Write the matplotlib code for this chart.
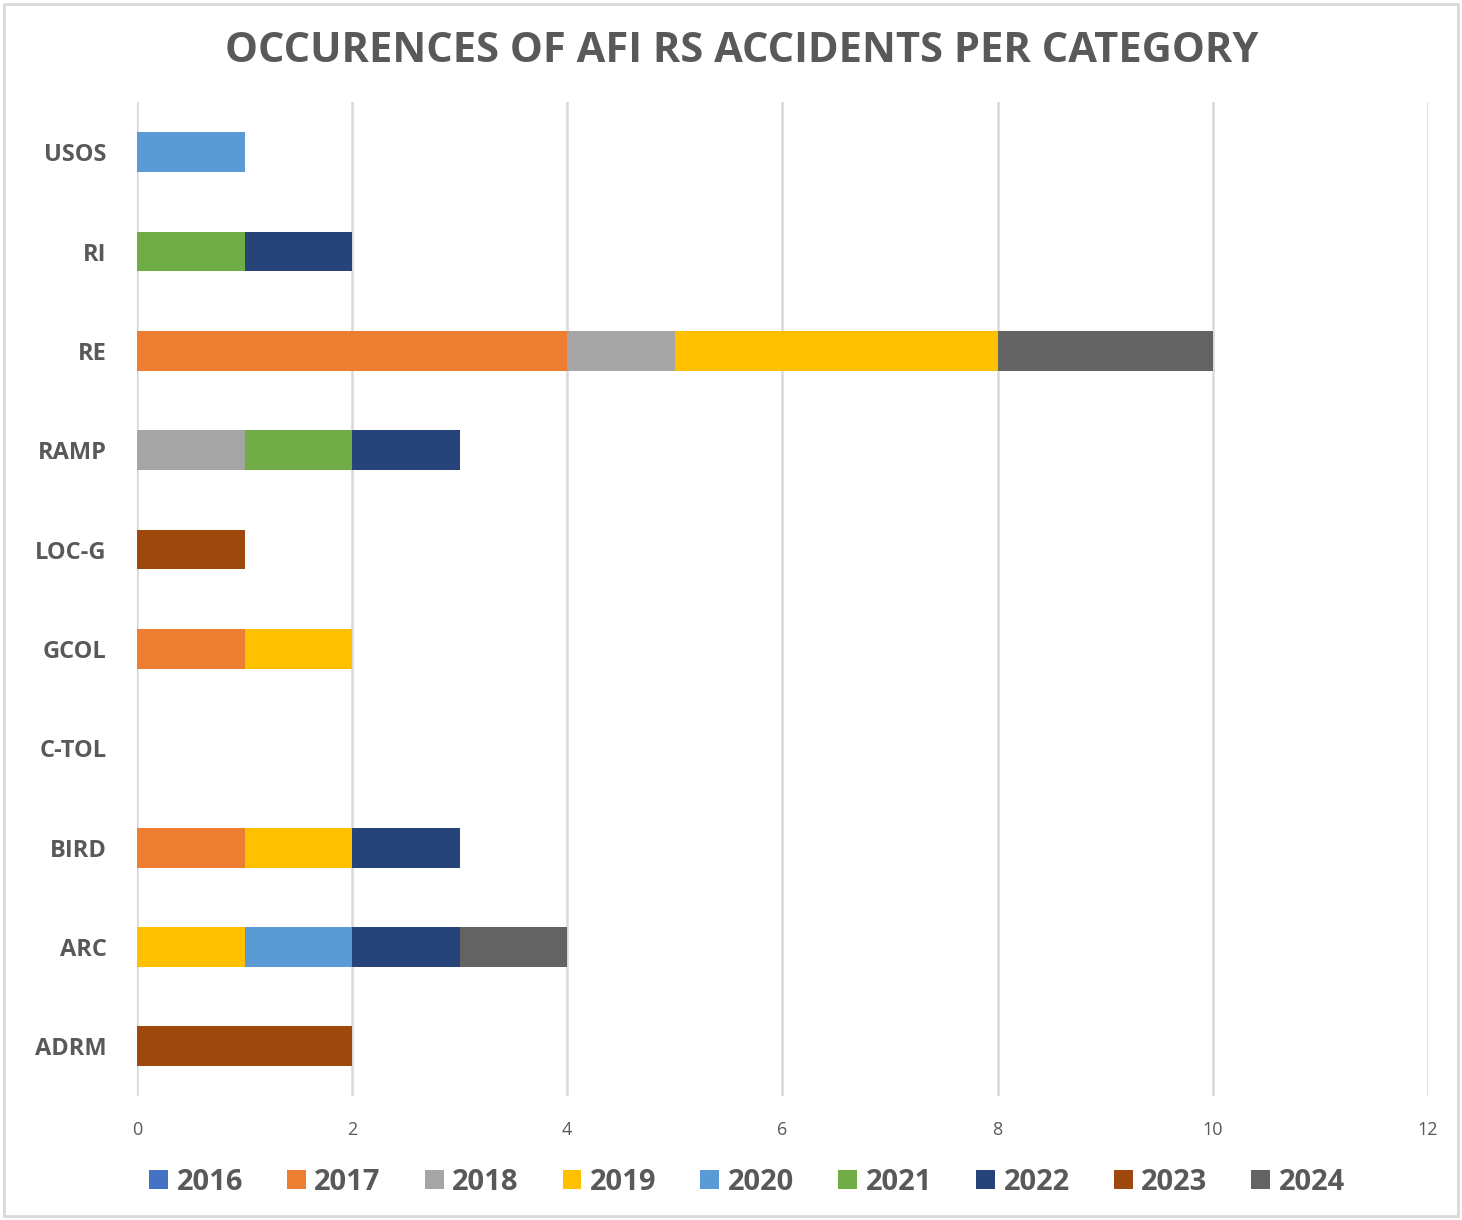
import matplotlib.pyplot as plt
from matplotlib.patches import Rectangle

categories = ['ADRM', 'ARC', 'BIRD', 'C-TOL', 'GCOL', 'LOC-G', 'RAMP', 'RE', 'RI', 'USOS']
years = ['2016', '2017', '2018', '2019', '2020', '2021', '2022', '2023', '2024']

# counts per year, in the order of categories
y2016 = [0, 0, 0, 0, 0, 0, 0, 0, 0, 0]
y2017 = [0, 0, 1, 0, 1, 0, 0, 4, 0, 0]
y2018 = [0, 0, 0, 0, 0, 0, 1, 1, 0, 0]
y2019 = [0, 1, 1, 0, 1, 0, 0, 3, 0, 0]
y2020 = [0, 1, 0, 0, 0, 0, 0, 0, 0, 1]
y2021 = [0, 0, 0, 0, 0, 0, 1, 0, 1, 0]
y2022 = [0, 1, 1, 0, 0, 0, 1, 0, 1, 0]
y2023 = [2, 0, 0, 0, 0, 1, 0, 0, 0, 0]
y2024 = [0, 1, 0, 0, 0, 0, 0, 2, 0, 0]
series = [y2016, y2017, y2018, y2019, y2020, y2021, y2022, y2023, y2024]

colors = ['#4472C4', '#ED7D31', '#A5A5A5', '#FFC000', '#5B9BD5',
          '#70AD47', '#264478', '#9E480E', '#636363']

plt.rcParams['font.family'] = ['Open Sans', 'DejaVu Sans']

fig = plt.figure(figsize=(14.62, 12.2), dpi=100)
ax = fig.add_axes([0.0937, 0.1016, 0.883, 0.8144])

left = [0] * len(categories)
for year, vals, col in zip(years, series, colors):
    ax.barh(categories, vals, left=left, height=0.4, color=col, label=year, zorder=3)
    left = [a + b for a, b in zip(left, vals)]

ax.set_xlim(0, 12)
ax.set_ylim(-0.5, len(categories) - 0.5)
ax.set_xticks(range(0, 13, 2))
ax.grid(axis='x', color='#D9D9D9', linewidth=1.8, zorder=0)
for s in ax.spines.values():
    s.set_visible(False)
ax.tick_params(axis='both', length=0)
ax.tick_params(axis='y', pad=22, labelsize=17, labelcolor='#595959')
ax.tick_params(axis='x', pad=18, labelsize=13, labelcolor='#595959')
for lbl in ax.get_yticklabels():
    lbl.set_fontweight('bold')

fig.text(0.507, 0.958, 'OCCURENCES OF AFI RS ACCIDENTS PER CATEGORY', ha='center', va='center',
         fontsize=30, fontweight='bold', color='#595959')

fig.legend(loc='center', bbox_to_anchor=(0.511, 0.031), ncol=9, frameon=False,
           prop={'size': 21, 'weight': 'bold'}, handlelength=0.65, handleheight=0.65,
           handletextpad=0.3, columnspacing=1.5, labelcolor='#595959')

fig.patches.append(Rectangle((0.003, 0.003), 0.994, 0.994, transform=fig.transFigure,
                             fill=False, edgecolor='#D9D9D9', linewidth=2))

plt.savefig('out.png')
